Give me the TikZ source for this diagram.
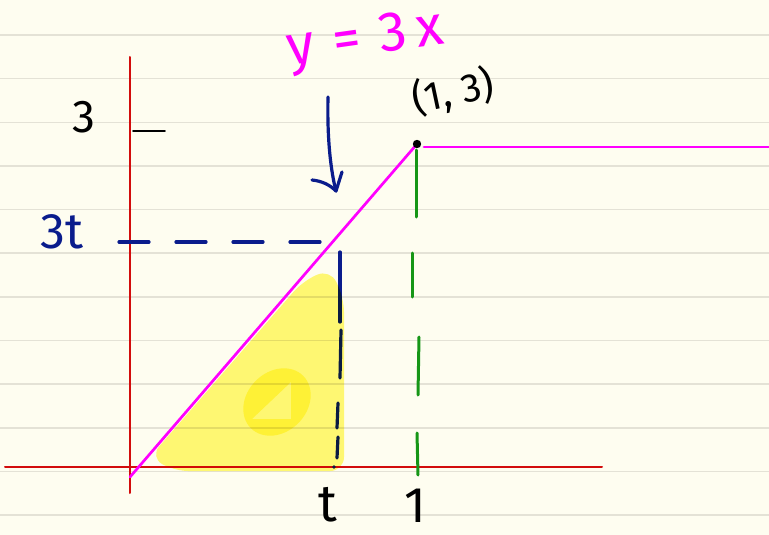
\documentclass[tikz,border=0pt]{standalone}
\usepackage{fontspec}
\setmainfont{Fira Sans}
\definecolor{paper}{RGB}{254,253,240}
\definecolor{ruleclr}{RGB}{228,226,214}
\definecolor{axisred}{RGB}{210,12,12}
\definecolor{mag}{RGB}{255,0,255}
\definecolor{grn}{RGB}{22,150,22}
\definecolor{navy}{RGB}{10,28,140}
\definecolor{hl}{RGB}{255,249,122}
\begin{document}
\begin{tikzpicture}[x=1pt,y=-1pt,line cap=round,line join=round,
  ruleline/.style={ruleclr,line width=1.6pt},
  axisline/.style={axisred,line width=2pt},
  graphline/.style={mag,line width=2.7pt},
  blueguide/.style={navy,line width=3.2pt},
  greenguide/.style={grn,line width=3pt},
  lab/.style={inner sep=0pt,outer sep=0pt},
  highlight/.style={fill=hl}]
\fill[paper] (0,0) rectangle (769,535);
\useasboundingbox (0,0) rectangle (769,535);
% ruled paper
\foreach \k in {0,...,11}
  \draw[ruleline] (0,{35+43.65*\k}) -- (769,{35+43.65*\k});
% axes
\coordinate (yaxtop) at (130,57);
\coordinate (yaxbot) at (130,493);
\coordinate (xaxl) at (5,467);
\coordinate (xaxr) at (602,467);
\draw[axisline] (yaxbot) -- (yaxtop);
\draw[axisline] (xaxl) -- (xaxr);
% tick at 3
\coordinate (tick3a) at (133,131);
\coordinate (tick3b) at (165,131);
\draw[black,line width=1.8pt] (tick3a) -- (tick3b);
% graph
\coordinate (orig) at (130,477);
\coordinate (corner) at (417,144);
\coordinate (flatstart) at (424,147);
\coordinate (flatend) at (769,147);
\draw[graphline] (orig) -- (corner);
\draw[graphline] (flatstart) -- (flatend);
% green dashed guide at x=1
\draw[greenguide] (416,150) -- (416,217);
\draw[greenguide] (412,253) -- (412,297);
\draw[greenguide] (419,337) -- (418,395);
\draw[greenguide] (417,433) -- (418,475);
% blue dashed guides
\coordinate (hstart) at (119,242);
\coordinate (hend) at (333,242);
\draw[blueguide,dash pattern=on 30pt off 27pt] (hstart) -- (hend);
\draw[blueguide] (340,252) -- (340,322);
\draw[blueguide] (341,330) -- (340,378);
\draw[blueguide] (338,403) -- (337,428);
\draw[blueguide] (338,437) -- (337,458);
\fill[navy] (334,467) circle (1.8);
% point (1,3)
\fill[black] (corner) circle (4.2);
% blue arrow
\coordinate (arrstart) at (328,97);
\coordinate (arrtip) at (336,191);
\coordinate (barbl) at (312,180);
\coordinate (barbr) at (342,172);
\draw[blueguide] (arrstart) .. controls (327,140) and (331,172) .. (arrtip);
\draw[blueguide] (barbl) .. controls (322,181) and (330,185) .. (arrtip) -- (barbr);
% highlighter
\begin{scope}[blend mode=multiply]
\fill[highlight,rounded corners=14pt] (344,380) -- (344,471) -- (174,471)
   -- (150,457) -- (303,281) -- (330,269) -- (344,298) -- cycle;
\begin{scope}[rotate around={45:(277,402)}]
\fill[highlight,even odd rule]
   (277,402) ellipse [x radius=37pt,y radius=30pt]
   ([rotate around={-45:(277,402)}]252,419) -- ([rotate around={-45:(277,402)}]291,382)
   -- ([rotate around={-45:(277,402)}]291,419) -- cycle;
\end{scope}
\end{scope}
% labels
\node[lab,font=\fontsize{46}{48}\selectfont] (lab3) at (84,117) {3};
\node[lab,navy,font=\fontsize{50}{52}\selectfont] (lab3t) at (62,232) {3t};
\node[lab,mag,rotate=8,font=\fontsize{56}{58}\selectfont] (labeq) at (366,42) {y\,\,=\,\,3\,x};
\node[lab,rotate=12,font=\fontsize{40}{42}\selectfont] (labpt) at (453,92) {(1, 3)};
\node[lab,font=\fontsize{52}{54}\selectfont] (labt) at (328,505) {t};
\node[lab,font=\fontsize{50}{52}\selectfont] (lab1) at (415,506) {1};
\end{tikzpicture}
\end{document}
